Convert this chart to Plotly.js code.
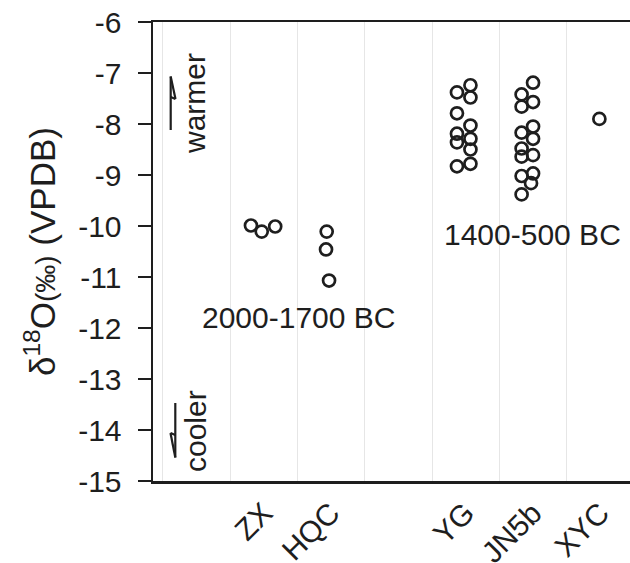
<!DOCTYPE html>
<html>
<head>
<meta charset="utf-8">
<script src="https://cdn.plot.ly/plotly-3.0.1.min.js"></script>
<style>html,body{margin:0;padding:0;background:#fff;}#chart{width:630px;height:563px;}</style>
</head>
<body>
<div id="chart"></div>
<script>
// ---- data ----
const sites = ["ZX", "HQC", "YG", "JN5b", "XYC"];
const sitePos = [1, 2, 4, 5, 6];
const zxY = [-9.99, -10.11, -10.01];
const zxDx = [-0.19, -0.03, 0.17];
const hqcY = [-10.11, -10.46, -11.07];
const hqcDx = [-0.065, -0.075, -0.03];
const ygY = [-7.24, -7.38, -7.48, -7.79, -8.03, -8.19, -8.29, -8.36, -8.50, -8.78, -8.83];
const ygDx = [0.07, -0.13, 0.07, -0.13, 0.07, -0.13, 0.07, -0.13, 0.07, 0.07, -0.13];
const jnY = [-7.19, -7.42, -7.57, -7.66, -8.05, -8.17, -8.29, -8.48, -8.61, -8.64, -8.97, -9.02, -9.16, -9.38];
const jnDx = [0.0, -0.17, 0.0, -0.17, 0.0, -0.17, 0.0, -0.17, 0.0, -0.17, 0.0, -0.17, -0.03, -0.17];
const xycY = [-7.90];
const xycDx = [-0.015];
const periodLabels = ["2000-1700 BC", "1400-500 BC"];
const yTicks = [-6, -7, -8, -9, -10, -11, -12, -13, -14, -15];

const groups = [
  {y: zxY, dx: zxDx}, {y: hqcY, dx: hqcDx}, {y: ygY, dx: ygDx},
  {y: jnY, dx: jnDx}, {y: xycY, dx: xycDx}
];

const FONT = "'Liberation Sans', Arial, Helvetica, sans-serif";
const INK = "#1e1e1e";
const FS = 30;

const traces = groups.map((g, i) => ({
  type: "scatter", mode: "markers", name: sites[i],
  x: g.dx.map(d => sitePos[i] + d), y: g.y,
  marker: {symbol: "circle-open", size: 12, color: INK, line: {width: 2.7}},
  hoverinfo: "x+y", showlegend: false
}));

// pixel helpers for decorations (plot area: x 153..630, y 22..481)
const L = 153, R = 630, T = 22, B = 481;
const px = v => (v - L) / (R - L);
const py = v => (B - v) / (B - T);

const seg = (x0, y0, x1, y1) => ({type: "line", xref: "paper", yref: "paper",
  x0: px(x0), y0: py(y0), x1: px(x1), y1: py(y1), line: {color: INK, width: 2.2}});
const arrowShapes = [
  seg(170.7, 130, 170.7, 76.5), seg(170.7, 76.5, 175.5, 99), seg(175.5, 99, 170.7, 97),
  seg(175.3, 403, 175.3, 457.5), seg(175.3, 457.5, 170.5, 433), seg(170.5, 433, 175.3, 435)
];

const annotations = [
  {text: periodLabels[0], x: 1.51, y: -11.80, xref: "x", yref: "y", showarrow: false,
   xanchor: "center", yanchor: "middle", font: {family: FONT, size: FS, color: INK}},
  {text: periodLabels[1], x: 4.99, y: -10.16, xref: "x", yref: "y", showarrow: false,
   xanchor: "center", yanchor: "middle", font: {family: FONT, size: FS, color: INK}},
  {text: "warmer", xref: "paper", yref: "paper", x: px(195), y: py(104), textangle: -90,
   xanchor: "center", yanchor: "middle", showarrow: false, font: {family: FONT, size: FS, color: INK}},
  {text: "cooler", xref: "paper", yref: "paper", x: px(195), y: py(431), textangle: -90,
   xanchor: "center", yanchor: "middle", showarrow: false, font: {family: FONT, size: FS, color: INK}}
];

const layout = {
  width: 630, height: 563,
  margin: {l: 153, r: 0, t: 22, b: 82},
  paper_bgcolor: "#fff", plot_bgcolor: "#fff",
  font: {family: FONT, size: FS, color: INK},
  xaxis: {
    range: [-0.645, 6.44], tickmode: "array", tickvals: sitePos, ticktext: sites,
    tickangle: -45, ticks: "", showgrid: false, zeroline: false,
    showline: true, linewidth: 2.5, linecolor: INK, mirror: true,
    tickfont: {family: FONT, size: FS, color: INK},
    minor: {tickmode: "linear", tick0: 0.5, dtick: 1, showgrid: true, gridcolor: "#e6e6e6", gridwidth: 1, ticks: ""}
  },
  yaxis: {
    range: [-15, -6], tickmode: "array", tickvals: yTicks, ticktext: yTicks.map(String),
    ticks: "outside", ticklen: 13, tickwidth: 2.5, tickcolor: INK, ticklabelstandoff: 10,
    showline: true, linewidth: 2.5, linecolor: INK, showgrid: false, zeroline: false,
    tickfont: {family: FONT, size: FS, color: INK},
    title: {text: "δ<sup>18</sup>O<span style=\"font-size:28px\">(‰)</span> (VPDB)",
            font: {family: FONT, size: 35, color: INK}, standoff: 12}
  },
  shapes: arrowShapes,
  annotations: annotations
};

Plotly.newPlot("chart", traces, layout, {displayModeBar: false, staticPlot: true});
</script>
</body>
</html>
